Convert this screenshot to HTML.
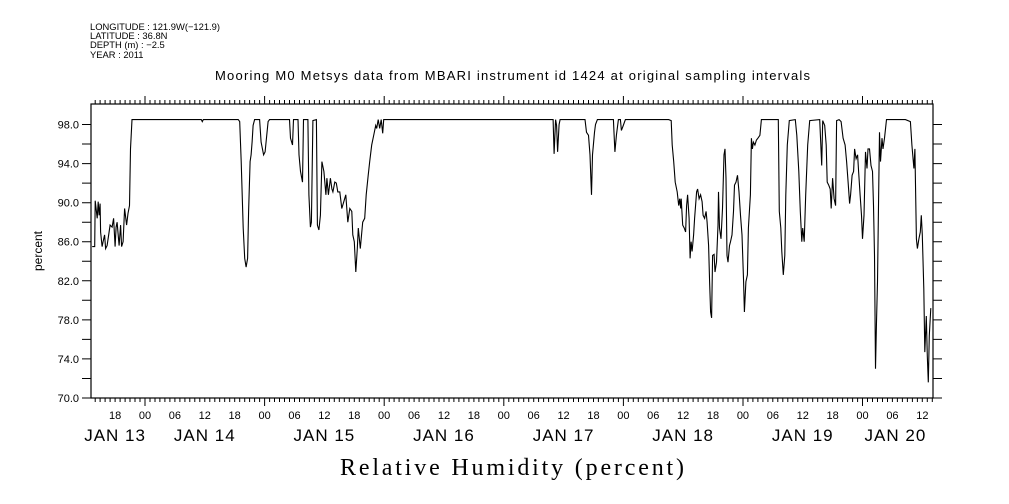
<!DOCTYPE html>
<html><head><meta charset="utf-8"><style>
html,body{margin:0;padding:0;background:#fff;width:1009px;height:504px;overflow:hidden}
svg{display:block;font-family:"Liberation Sans",sans-serif}
</style></head><body>
<svg id="chart" width="1009" height="504" xmlns="http://www.w3.org/2000/svg">
<g font-size="9.4" fill="#000">
<text x="90" y="30">LONGITUDE : 121.9W(−121.9)</text>
<text x="90" y="39">LATITUDE : 36.8N</text>
<text x="90" y="48">DEPTH (m) : −2.5</text>
<text x="90" y="58">YEAR : 2011</text>
</g>
<text x="215" y="80" font-size="13" textLength="595" lengthAdjust="spacing">Mooring M0 Metsys data from MBARI instrument id 1424 at original sampling intervals</text>
<text x="340" y="475" font-size="24" font-family="Liberation Serif, serif" textLength="344" lengthAdjust="spacing">Relative Humidity (percent)</text>
<text transform="translate(42,251) rotate(-90)" text-anchor="middle" font-size="12">percent</text>
<g id="axes"></g>
<g id="series"></g>
</svg>
<script>
const hours=[13.4,13.9,14.0,14.4,14.6,14.8,15.0,15.1,15.4,15.6,15.9,16.1,16.4,16.8,17.0,17.4,17.7,18.0,18.2,18.4,18.8,19.1,19.3,19.6,19.9,20.3,20.6,20.9,21.1,21.4,35.3,35.5,35.7,42.7,43.0,43.3,43.7,44.0,44.3,44.6,44.8,45.1,45.3,45.5,45.7,46.0,47.0,47.3,47.8,48.1,48.7,49.0,53.0,53.2,53.6,53.8,54.7,54.9,55.2,55.6,55.8,56.7,56.9,57.2,57.4,57.7,58.4,58.6,58.9,59.2,59.5,59.9,60.3,60.5,60.8,61.2,61.5,61.7,62.1,62.4,62.7,63.1,63.5,63.9,64.3,64.7,65.1,65.5,65.7,66.0,66.3,66.6,66.8,67.2,67.5,67.7,68.1,68.4,68.8,69.1,69.5,69.9,70.3,70.5,70.8,71.1,71.4,71.7,71.9,105.9,106.1,106.4,106.6,106.8,107.1,107.3,112.3,112.6,113.0,113.3,113.5,113.6,113.8,114.2,114.4,114.8,118.0,118.3,118.6,119.0,119.4,119.6,119.9,120.4,129.1,129.6,129.8,130.1,130.4,130.8,131.1,131.3,131.5,131.6,131.9,132.2,132.5,132.7,132.9,133.2,133.4,133.6,133.8,134.1,134.3,134.7,134.9,135.2,135.5,135.8,136.0,136.3,136.6,136.8,137.1,137.3,137.5,137.7,137.9,138.2,138.4,138.7,139.0,139.1,139.3,139.6,139.9,140.2,140.4,140.6,140.8,141.0,141.3,141.5,141.8,142.1,142.3,142.6,142.9,143.2,143.5,143.8,144.1,144.3,144.6,144.9,145.1,145.5,145.7,145.9,146.1,146.4,146.7,147.0,147.4,147.7,151.1,151.3,151.6,151.8,152.1,152.4,152.6,152.9,153.3,154.5,154.8,155.2,155.5,155.8,156.0,156.3,156.6,157.0,157.4,159.4,159.6,159.8,160.0,160.4,160.7,160.9,161.2,161.5,161.7,162.0,162.3,162.6,162.8,163.3,163.7,164.1,164.5,164.8,165.1,165.4,165.6,165.9,166.2,166.4,166.7,167.0,167.2,167.5,167.8,168.0,168.3,168.6,168.9,169.1,169.4,169.7,170.0,170.2,170.4,170.6,170.8,171.0,171.2,171.4,171.6,171.9,172.1,172.4,172.8,176.6,177.6,177.9,178.3,178.5,178.8,179.0,179.3,179.6,179.8,180.0,180.3,180.5,180.8,181.0,181.2,181.4,181.7];
const rh=[85.5,85.5,90.2,88.4,90.1,88.7,89.9,87.0,85.5,86.0,86.7,85.3,85.6,87.0,87.7,87.5,88.4,85.5,87.5,88.0,85.6,87.7,85.5,86.0,89.4,87.7,88.9,89.7,95.5,98.5,98.5,98.3,98.5,98.5,98.3,94.2,87.4,84.3,83.4,84.3,89.1,94.2,94.9,96.2,97.9,98.5,98.5,96.2,94.9,95.2,98.3,98.5,98.5,96.6,95.9,98.5,98.5,94.9,93.2,92.1,98.5,98.5,90.8,87.5,88.0,98.4,98.5,87.7,87.2,88.7,94.2,93.2,90.8,92.5,90.8,92.5,91.4,91.1,92.1,92.0,91.1,91.1,89.4,90.1,90.8,88.0,89.4,89.1,86.7,86.0,82.9,85.3,87.4,85.3,87.0,88.0,88.4,90.8,92.8,94.2,95.9,96.9,97.9,97.6,98.5,97.6,98.5,97.1,98.5,98.5,95.0,98.5,97.9,95.2,98.0,98.5,98.5,97.2,96.9,94.9,92.1,90.8,94.9,97.2,98.0,98.5,98.5,95.2,96.9,98.5,98.5,97.4,97.8,98.5,98.5,98.4,95.9,94.2,92.1,91.1,89.7,90.4,89.4,90.4,87.7,87.4,87.0,89.7,90.8,88.4,84.3,86.0,85.0,86.7,88.4,91.1,91.4,90.4,90.8,90.1,88.7,88.4,89.1,88.0,85.6,81.9,78.8,78.2,84.6,84.7,82.9,83.9,87.7,91.1,87.4,86.3,89.4,94.9,95.5,92.5,84.6,83.9,85.6,86.0,86.7,89.1,91.8,92.1,92.8,91.1,88.7,86.7,82.2,78.8,81.9,82.6,87.4,90.8,96.6,95.5,96.2,95.9,96.4,96.6,96.9,98.5,98.5,89.1,87.4,85.0,82.6,84.6,90.8,95.9,98.4,98.5,96.9,93.2,89.1,86.0,87.4,86.0,90.8,95.9,98.4,98.5,96.2,93.8,98.4,97.9,95.9,92.1,91.8,91.4,89.4,92.5,90.4,89.7,98.4,98.5,98.3,96.6,95.9,94.2,92.1,89.9,90.8,92.8,93.2,95.5,94.5,94.9,93.2,90.8,88.7,86.3,88.7,95.2,93.5,95.5,95.5,93.8,93.2,89.7,84.6,73.0,77.8,81.9,89.7,97.2,94.2,96.6,95.5,96.6,98.5,98.5,98.3,95.9,93.5,95.5,86.3,85.3,86.3,87.0,88.7,86.7,81.2,74.7,78.4,74.3,71.6,76.4,79.2];
const yTicks=[70,74,78,82,86,90,94,98];
const hourTickLabels=["18","00","06","12","18","00","06","12","18","00","06","12","18","00","06","12","18","00","06","12","18","00","06","12","18","00","06","12"];
const dayLabels=["JAN 13","JAN 14","JAN 15","JAN 16","JAN 17","JAN 18","JAN 19","JAN 20"];
const dayLabelHours=[18,36,60,84,108,132,156,174.6];

const L=91,R=933,T=104,B=398,X0=25.4,PXH=4.983,YMIN=70,YMAX=100.1;
const NS="http://www.w3.org/2000/svg";
const xs=h=>X0+h*PXH;
const ys=v=>B-(v-YMIN)/(YMAX-YMIN)*(B-T);
const axes=document.getElementById('axes');
function mk(tag,attrs,parent){const e=document.createElementNS(NS,tag);for(const k in attrs)e.setAttribute(k,attrs[k]);parent.appendChild(e);return e;}
const frame=mk('rect',{x:L,y:T,width:R-L,height:B-T,fill:'none',stroke:'#000','stroke-width':1.2},axes);


let d='';
const hStart=Math.ceil((L-X0)/PXH),hEnd=Math.floor((R-X0)/PXH);
for(let h=hStart;h<=hEnd;h++){const x=xs(h).toFixed(1);const len=(h%24===0)?8:4;d+=`M${x},${B}v${len}M${x},${T}v${-len}`;}
for(let v=70;v<=98;v+=2){const y=ys(v).toFixed(1);d+=`M${L},${y}h-9M${R},${y}h9`;}
const tk=mk('path',{d:d,stroke:'#000','stroke-width':1,fill:'none'},axes);


yTicks.forEach(v=>{const t=mk('text',{x:L-12,y:ys(v)+4,'text-anchor':'end','font-size':11},axes);t.textContent=v.toFixed(1);

});
hourTickLabels.forEach((s,i)=>{const h=18+6*i;const t=mk('text',{x:xs(h),y:419,'text-anchor':'middle','font-size':11},axes);t.textContent=s;

});
dayLabels.forEach((s,i)=>{const t=mk('text',{x:xs(dayLabelHours[i]),y:441,'text-anchor':'middle','font-size':17,'letter-spacing':'1'},axes);t.textContent=s;

});
const pts=hours.map((h,i)=>xs(h).toFixed(1)+','+ys(rh[i]).toFixed(1)).join(' ');
const line=mk('polyline',{points:pts,fill:'none',stroke:'#000','stroke-width':1.1},document.getElementById('series'));


</script>
</body></html>
